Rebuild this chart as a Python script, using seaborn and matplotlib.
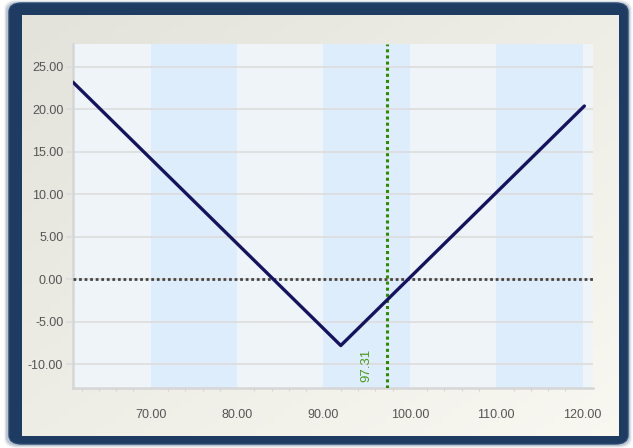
import numpy as np
import pandas as pd
import matplotlib.pyplot as plt
import matplotlib.patches as mpatches
import seaborn as sns

# payoff profile (underlying price -> profit/loss)
price = [61.0, 92.0, 120.2]
pnl = [23.2, -7.8, 20.4]
current_price = 97.31
x_ticks = [70, 80, 90, 100, 110, 120]
y_ticks = [-10, -5, 0, 5, 10, 15, 20, 25]
band_ranges = [(70, 80), (90, 100), (110, 120)]

df = pd.DataFrame({'price': price, 'pnl': pnl})

sns.set_theme(style='white')
plt.rcParams['font.family'] = ['Liberation Sans', 'DejaVu Sans']

fig = plt.figure(figsize=(6.33, 4.48), dpi=100)
fig.patch.set_facecolor('white')

W, H = 633, 448
def box(x0, y0, x1, y1):
    return (x0 / W, 1 - y1 / H, (x1 - x0) / W, (y1 - y0) / H)

# soft shadow + navy frame
for i, a in enumerate([0.06, 0.1, 0.16]):
    x0, y0, w, h = box(4 + i, 0 + i, 632 - i, 448 - i)
    fig.patches.append(mpatches.FancyBboxPatch((x0, y0), w, h, boxstyle='round,pad=0,rounding_size=0.02',
                                               transform=fig.transFigure, fc='#1f3a5f', ec='none', alpha=a, zorder=0))
x0, y0, w, h = box(9, 3, 628, 444)
fig.patches.append(mpatches.FancyBboxPatch((x0, y0), w, h, boxstyle='round,pad=0,rounding_size=0.02',
                                           transform=fig.transFigure, fc='#1e3b62', ec='#2a4a72', lw=1, zorder=1))

# inner panel gradient
bg = fig.add_axes(box(22, 15, 619, 436), zorder=2)
gx, gy = np.meshgrid(np.linspace(0, 1, 64), np.linspace(0, 1, 64))
g = (gx + gy) / 2
c0 = np.array([0.89, 0.89, 0.86])
c1 = np.array([0.975, 0.97, 0.945])
img = c0[None, None, :] * (1 - g[..., None]) + c1[None, None, :] * g[..., None]
bg.imshow(img, aspect='auto', extent=(0, 1, 1, 0))
bg.set_axis_off()

ax = fig.add_axes(box(73, 44, 593, 388), zorder=3)
ax.set_facecolor('#eff4f8')
for lo, hi in band_ranges:
    ax.axvspan(lo, hi, color='#deedfc', lw=0, zorder=0)

ax.set_xlim(61, 121.2)
ax.set_ylim(-12.8, 27.7)
ax.set_yticks(y_ticks)
ax.set_xticks(x_ticks)
ax.set_xticks(np.arange(62, 121, 2), minor=True)
ax.yaxis.grid(True, color='#dcdcdc', lw=1.2, zorder=1)
ax.set_axisbelow(True)

ax.axhline(0, color='#444444', lw=2, ls=(0, (1, 1)), zorder=3)
ax.axvline(current_price, color='#2f8a00', lw=2.2, ls=(0, (1, 1)), zorder=3)
ax.annotate(f'{current_price:.2f}', xy=(current_price, -12.8), xytext=(-10, 4.5), textcoords='offset points',
            rotation=90, ha='right', va='bottom', color='#4a9a1a', fontsize=9.5)

sns.lineplot(data=df, x='price', y='pnl', ax=ax, color='#15135f', lw=2.4, zorder=4)
ax.set_xlabel('')
ax.set_ylabel('')

ax.set_xticklabels([f'{v:.2f}' for v in x_ticks])
ax.set_yticklabels([f'{v:.2f}' for v in y_ticks])
ax.tick_params(axis='x', which='major', length=0, pad=15, labelsize=9, labelcolor='#555555')
ax.tick_params(axis='x', which='minor', length=2, width=0.8, color='#d4d4d4', bottom=True)
ax.tick_params(axis='y', which='major', length=5, width=1.2, color='#dcdcdc', left=True,
               labelsize=9, labelcolor='#555555', pad=2)
for s in ['top', 'right']:
    ax.spines[s].set_visible(False)
for s in ['left', 'bottom']:
    ax.spines[s].set_color('#d6d6d6')
    ax.spines[s].set_linewidth(1.8)

fig.savefig('out.png', dpi=100)
